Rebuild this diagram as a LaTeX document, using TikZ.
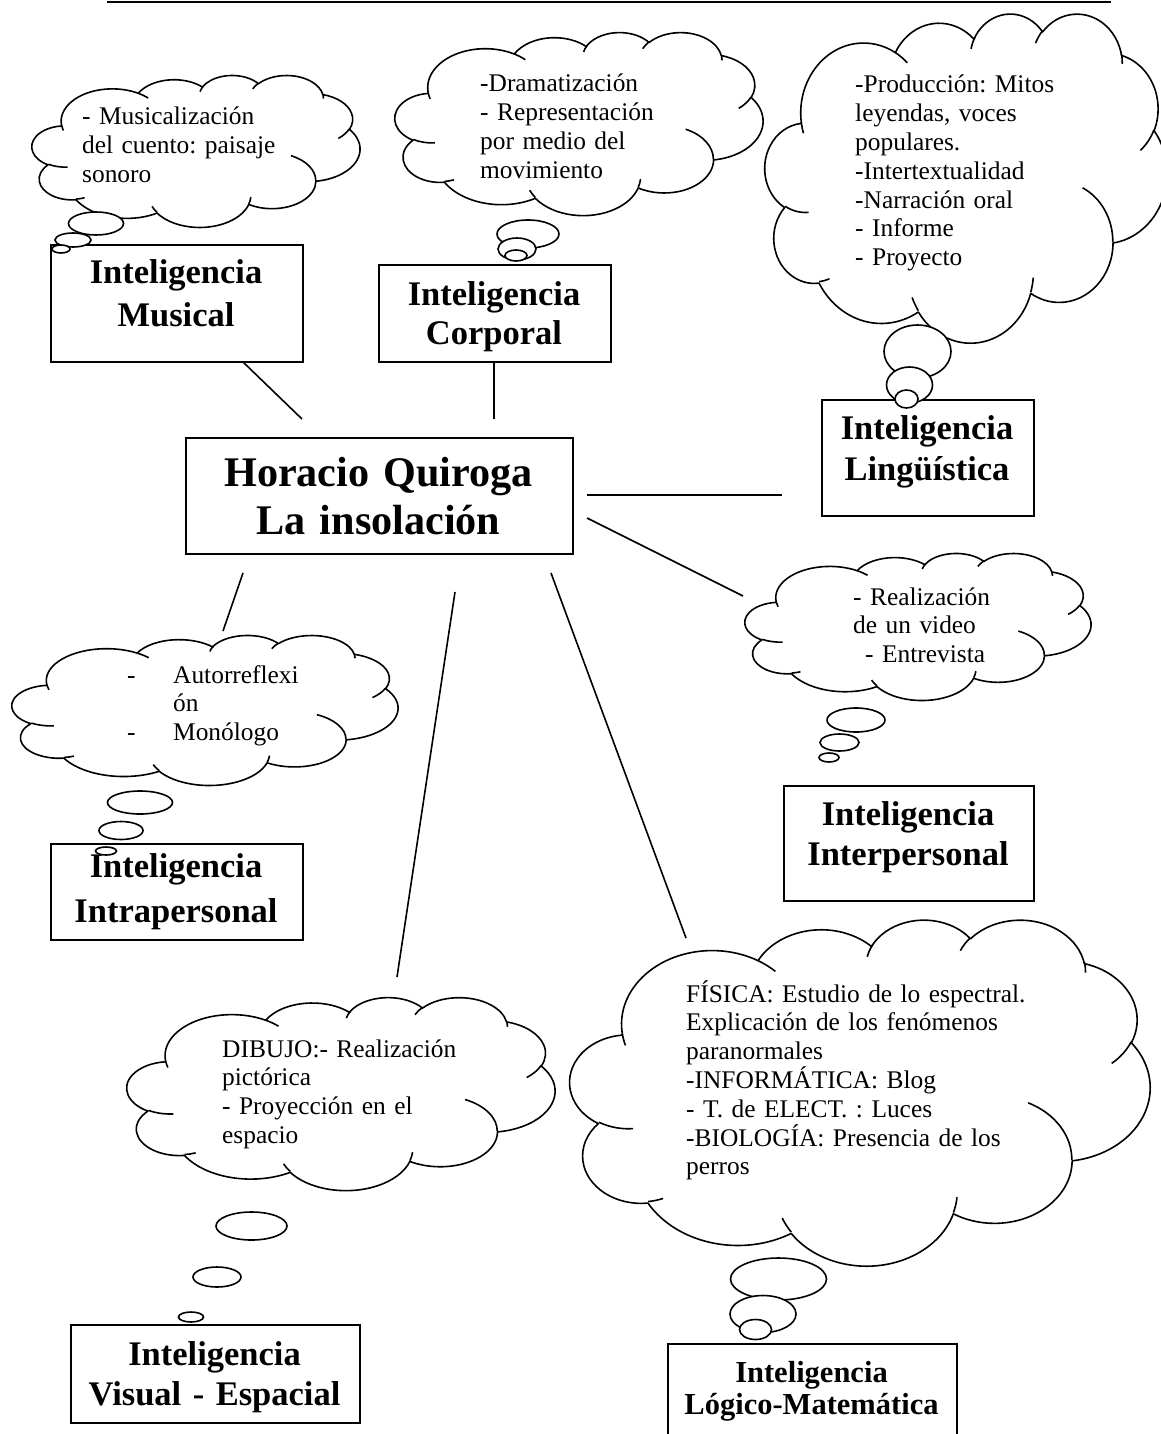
\documentclass[tikz,border=0pt]{standalone}
\usepackage{fontspec}
\setmainfont{Liberation Serif}
\frenchspacing
\tikzset{
  warc/.code args={#1/#2/#3/#4}{%
    \pgfmathsetmacro\wA{atan2((#1)*sin(#3),(#2)*cos(#3))}%
    \pgfmathsetmacro\wB{atan2((#1)*sin((#3)+(#4)),(#2)*cos((#3)+(#4)))}%
    \pgfmathsetmacro\wD{mod(\wB-\wA+720,360)}%
    \pgfkeysalso{start angle=\wA, delta angle=\wD, x radius=#1, y radius=#2}},
  cloudst/.style={draw, fill=white, line width=1.6pt, line join=round},
  cloudln/.style={draw, line width=1.6pt},
  bubst/.style={draw, fill=white, line width=1.6pt},
  boxst/.style={draw, fill=white, line width=2pt, inner sep=0pt, anchor=north west},
  conn/.style={draw, line width=1.6pt},
  ttl/.style={inner sep=0pt, anchor=base, text width=330pt, align=center},
  body/.style={inner sep=0pt, anchor=base west, text width=440pt, align=left,
    font=\frenchspacing\fontsize{25.4}{28.8}\selectfont},
}
\newcommand{\wcloud}[4]{%
  \begin{scope}[shift={(#1,#2)}, xscale=#3/4320, yscale=#4/4320]
    \path[cloudst] (390,1437)
      arc[warc=675.3/919.0/-190.4875/123.7805]
      arc[warc=533.3/726.7/-144.1024/89.9452]
      arc[warc=436.5/594.5/-145.8079/99.7230]
      arc[warc=485.7/659.5/-130.9861/117.2417]
      arc[warc=533.3/727.3/-78.7089/109.0269]
      arc[warc=677.5/922.0/-46.2673/130.2690]
      arc[warc=578.5/786.7/0.6250/114.0333]
      arc[warc=675.2/921.5/22.4516/115.1726]
      arc[warc=772.0/1054.3/66.2426/75.7110]
      arc[warc=436.0/591.8/-274.9421/146.7356]
      arc[warc=434.5/594.5/-246.8285/152.5189]
      -- cycle;
    \path[cloudln] (469.3,2617.7) arc[warc=434.5/594.5/86.7420/26.4295]
      (692.8,3489.9) arc[warc=436.0/591.8/73.6105/11.4475]
      (1647.8,3909.0) arc[warc=675.2/921.5/137.6242/14.0811]
      (2882.7,3475.1) arc[warc=675.2/921.5/6.4533/15.9984]
      (3412.9,2295.4) arc[warc=578.5/786.7/-70.2924/70.9174]
      (4179.8,1535.4) arc[warc=533.3/727.3/30.3180/27.7515]
      (3832.4,542.6) arc[warc=485.7/659.5/-13.7443/14.8589]
      (2907.8,395.2) arc[warc=485.7/659.5/-149.1815/18.1954]
      (2214.1,472.0) arc[warc=436.5/594.5/-163.4943/19.5028]
      (1400.0,519.2) arc[warc=675.3/919.0/-66.7070/12.3194]
      (412.7,1578.9) arc[warc=675.3/919.0/157.6544/11.8582];
  \end{scope}}
\begin{document}
\begin{tikzpicture}[x=1pt, y=1pt, yscale=-1]
\fill[white] (0,0) rectangle (1161,1434);
\useasboundingbox (0,0) rectangle (1161,1434);

% top rule
\coordinate (rule-l) at (107,2);
\coordinate (rule-r) at (1111,2);
\draw[line width=2.5pt] (rule-l) -- (rule-r);

% connector end points
\coordinate (mus-a) at (243,362);  \coordinate (mus-b) at (302,419);
\coordinate (cor-a) at (494,362);  \coordinate (cor-b) at (494,419);
\coordinate (lin-a) at (587,495);  \coordinate (lin-b) at (782,495);
\coordinate (int-a) at (587,518);  \coordinate (int-b) at (743,596);
\coordinate (log-a) at (551,573);  \coordinate (log-b) at (686,938);
\coordinate (vis-a) at (455,592);  \coordinate (vis-b) at (397,977);
\coordinate (tra-a) at (243,573);  \coordinate (tra-b) at (223,631);
\draw[conn] (mus-a) -- (mus-b);
\draw[conn] (cor-a) -- (cor-b);
\draw[conn] (lin-a) -- (lin-b);
\draw[conn] (int-a) -- (int-b);
\draw[conn] (log-a) -- (log-b);
\draw[conn] (vis-a) -- (vis-b);
\draw[conn] (tra-a) -- (tra-b);

% boxes
\node[boxst, minimum width=387, minimum height=116] (b-cen) at (185,437) {};
\node[boxst, minimum width=252, minimum height=117] (b-mus) at (50,244) {};
\node[boxst, minimum width=232, minimum height=97] (b-cor) at (378,264) {};
\node[boxst, minimum width=212, minimum height=116] (b-lin) at (821,399) {};
\node[boxst, minimum width=250, minimum height=115] (b-int) at (783,785) {};
\node[boxst, minimum width=252, minimum height=96] (b-tra) at (50,843) {};
\node[boxst, minimum width=289, minimum height=98] (b-vis) at (70,1324) {};
\node[boxst, minimum width=289, minimum height=120] (b-log) at (667,1343) {};

% titles
\node[ttl, font=\bfseries\fontsize{42.2}{48}\selectfont] (t-cen) at (378.5,486) {Horacio Quiroga\\La insolación};
\node[ttl, font=\bfseries\fontsize{34.5}{43}\selectfont] (t-mus) at (176,283.5) {Inteligencia\\Musical};
\node[ttl, font=\bfseries\fontsize{34.5}{39}\selectfont] (t-cor) at (494,305) {Inteligencia\\Corporal};
\node[ttl, font=\bfseries\fontsize{34.5}{41}\selectfont] (t-lin) at (927,439) {Inteligencia\\Lingüística};
\node[ttl, font=\bfseries\fontsize{34.5}{40}\selectfont] (t-int) at (908,825) {Inteligencia\\Interpersonal};
\node[ttl, font=\bfseries\fontsize{34.5}{45}\selectfont] (t-tra) at (176,877) {Inteligencia\\Intrapersonal};
\node[ttl, font=\bfseries\fontsize{34.5}{40}\selectfont] (t-vis) at (214.5,1365) {Inteligencia\\Visual - Espacial};
\node[ttl, font=\bfseries\fontsize{30.5}{32}\selectfont] (t-log) at (811.5,1382) {Inteligencia\\Lógico-Matemática};

% clouds
\wcloud{32}{75}{328}{152}
\wcloud{395}{32}{368}{183}
\wcloud{765}{13}{402}{329}
\wcloud{745}{553}{346}{147}
\wcloud{12}{635}{386}{150}
\wcloud{127}{997}{428}{193}
\wcloud{570}{919}{580}{346}

% thought bubbles
\path[bubst] (96,223.5) ellipse[x radius=27.5, y radius=11.5];
\path[bubst] (73,240) ellipse[x radius=18, y radius=7];
\path[bubst] (61,249) ellipse[x radius=9, y radius=4];

\path[bubst] (528,234) ellipse[x radius=31, y radius=14];
\path[bubst] (517,249) ellipse[x radius=19, y radius=11];
\path[bubst] (516,255.5) ellipse[x radius=11, y radius=5.5];

\path[bubst] (917.5,351.5) ellipse[x radius=33.5, y radius=26.5];
\path[bubst] (909.5,385) ellipse[x radius=23, y radius=18];
\path[bubst] (906.5,399) ellipse[x radius=11.5, y radius=9];

\path[bubst] (856,720) ellipse[x radius=29, y radius=12];
\path[bubst] (839.5,742.5) ellipse[x radius=19.5, y radius=8.5];
\path[bubst] (829,757.5) ellipse[x radius=10, y radius=4.5];

\path[bubst] (140,802.5) ellipse[x radius=32.5, y radius=11.5];
\path[bubst] (121,830.5) ellipse[x radius=22, y radius=9];
\path[bubst] (106,851) ellipse[x radius=10.5, y radius=4];

\path[bubst] (251.5,1226) ellipse[x radius=35.5, y radius=14];
\path[bubst] (217,1277) ellipse[x radius=24, y radius=10];
\path[bubst] (191,1317) ellipse[x radius=12.5, y radius=5];

\path[bubst] (778.5,1279) ellipse[x radius=48, y radius=21];
\path[bubst] (763,1314) ellipse[x radius=33, y radius=18.5];
\path[bubst] (755.5,1329.5) ellipse[x radius=16, y radius=10];

% cloud texts
\node[body] (c-mus) at (82,125) {- Musicalización\\del cuento: paisaje\\sonoro};
\node[body] (c-cor) at (480,92) {-Dramatización\\- Representación\\por medio del\\movimiento};
\node[body] (c-lin) at (855,93) {-Producción: Mitos\\leyendas, voces\\populares.\\-Intertextualidad\\-Narración oral\\- Informe\\- Proyecto};
\node[body] (c-int) at (853,605) {- Realización\\de un video\\\hspace*{12pt}- Entrevista};
\node[body] (c-tra) at (127,683) {\makebox[46pt][l]{-}Autorreflexi\\\hspace*{46pt}ón\\\makebox[46pt][l]{-}Monólogo};
\node[body] (c-vis) at (222,1057) {DIBUJO:- Realización\\pictórica\\- Proyección en el\\espacio};
\node[body] (c-log) at (686,1002) {FÍSICA: Estudio de lo espectral.\\Explicación de los fenómenos\\paranormales\\-INFORMÁTICA: Blog\\- T. de ELECT. : Luces\\-BIOLOGÍA: Presencia de los\\perros};
\end{tikzpicture}
\end{document}
